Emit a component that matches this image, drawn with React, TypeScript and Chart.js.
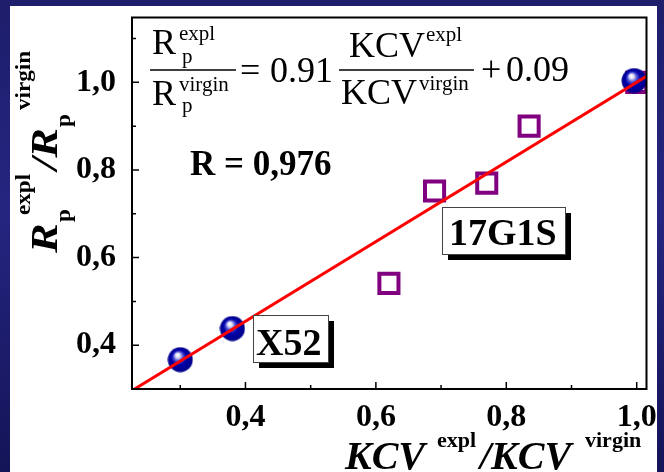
import React, { useEffect, useRef } from "react";
import { Chart, registerables } from "chart.js";

Chart.register(...registerables);

// ---- data ----
const x52X = [0.3, 0.38, 0.996];
const x52Y = [0.367, 0.438, 1.004];
const g17X = [0.62, 0.69, 0.77, 0.835, 1.0];
const g17Y = [0.541, 0.752, 0.77, 0.9, 1.0];
const fitX = [0.23, 1.015];
const fitY = [0.3, 1.014];
const xTicks = [0.4, 0.6, 0.8, 1.0];
const yTicks = [0.4, 0.6, 0.8, 1.0];
const xMinorTicks = [0.3, 0.5, 0.7, 0.9];
const yMinorTicks = [0.5, 0.7, 0.9, 1.1];
const xRange = [0.226, 1.015];
const yRange = [0.3, 1.148];

const SERIF = "'Liberation Serif', 'Times New Roman', serif";

const fmt = (v: number) => v.toFixed(1).replace(".", ",");

function makeSphere() {
  const c = document.createElement("canvas");
  c.width = 26;
  c.height = 26;
  const g = c.getContext("2d")!;
  const grad = g.createRadialGradient(10, 8, 0.5, 13, 13, 13);
  grad.addColorStop(0, "#ffffff");
  grad.addColorStop(0.14, "#e0e0fa");
  grad.addColorStop(0.32, "#5a5ad4");
  grad.addColorStop(0.55, "#0000aa");
  grad.addColorStop(1, "#000086");
  g.fillStyle = grad;
  g.beginPath();
  g.arc(13, 13, 12.5, 0, Math.PI * 2);
  g.fill();
  return c;
}

function txt(ctx: CanvasRenderingContext2D, s: string, x: number, y: number, font: string, sx = 1) {
  ctx.save();
  ctx.font = font;
  ctx.translate(x, y);
  ctx.scale(sx, 1);
  ctx.fillText(s, 0, 0);
  ctx.restore();
}

const bgPlugin = {
  id: "bg",
  beforeDraw(chart: any) {
    const ctx = chart.ctx as CanvasRenderingContext2D;
    const w = chart.width;
    const h = chart.height;
    ctx.save();
    const gr = ctx.createLinearGradient(0, 0, 0, h);
    gr.addColorStop(0, "#1e1e6c");
    gr.addColorStop(0.45, "#252580");
    gr.addColorStop(1, "#141458");
    ctx.fillStyle = gr;
    ctx.fillRect(0, 0, w, h);
    ctx.fillStyle = "#ffffff";
    ctx.fillRect(10, 6, 647, h - 6);
    ctx.restore();
  },
};

const decoPlugin = {
  id: "deco",
  afterDraw(chart: any) {
    const ctx = chart.ctx as CanvasRenderingContext2D;
    const a = chart.chartArea;
    const xs = chart.scales.x;
    const ys = chart.scales.y;
    ctx.save();
    // frame
    ctx.strokeStyle = "#000";
    ctx.lineWidth = 2;
    ctx.strokeRect(a.left, a.top, a.right - a.left, a.bottom - a.top);
    // ticks (inward)
    ctx.lineWidth = 1.5;
    ctx.beginPath();
    xTicks.forEach((v) => {
      const p = xs.getPixelForValue(v);
      ctx.moveTo(p, a.bottom);
      ctx.lineTo(p, a.bottom - 7);
    });
    xMinorTicks.forEach((v) => {
      const p = xs.getPixelForValue(v);
      ctx.moveTo(p, a.bottom);
      ctx.lineTo(p, a.bottom - 4);
    });
    yTicks.forEach((v) => {
      const p = ys.getPixelForValue(v);
      ctx.moveTo(a.left, p);
      ctx.lineTo(a.left + 7, p);
    });
    yMinorTicks.forEach((v) => {
      const p = ys.getPixelForValue(v);
      ctx.moveTo(a.left, p);
      ctx.lineTo(a.left + 4, p);
    });
    ctx.stroke();

    ctx.fillStyle = "#000";
    ctx.textBaseline = "alphabetic";
    ctx.textAlign = "left";

    // x axis title
    const bi39 = `italic bold 40px ${SERIF}`;
    const b22 = `bold 22px ${SERIF}`;
    txt(ctx, "KCV", 345, 469, bi39);
    txt(ctx, "expl", 437, 447, b22);
    txt(ctx, "/KCV", 480, 469, bi39);
    txt(ctx, "virgin", 585, 447, b22);

    // y axis title (rotated)
    ctx.save();
    ctx.translate(57, 253);
    ctx.rotate(-Math.PI / 2);
    const bi36 = `italic bold 37px ${SERIF}`;
    const b21 = `bold 21px ${SERIF}`;
    txt(ctx, "R", 0, 0, bi36, 1.2);
    txt(ctx, "p", 31, 13, b21, 1.1);
    txt(ctx, "expl", 38, -27, b21, 1.1);
    txt(ctx, "/R", 83, 0, bi36, 1.2);
    txt(ctx, "p", 126, 13, b21, 1.1);
    txt(ctx, "virgin", 143, -27, b21, 1.1);
    ctx.restore();

    // equation
    const r36 = `36px ${SERIF}`;
    const r21 = `21px ${SERIF}`;
    txt(ctx, "R", 152, 54, r36);
    txt(ctx, "expl", 179, 40, r21);
    txt(ctx, "p", 182, 63, r21);
    txt(ctx, "R", 152, 105, r36);
    txt(ctx, "virgin", 179, 91, r21);
    txt(ctx, "p", 182, 112, r21);
    ctx.lineWidth = 1.5;
    ctx.beginPath();
    ctx.moveTo(150, 70);
    ctx.lineTo(236, 70);
    ctx.moveTo(339, 70);
    ctx.lineTo(474, 70);
    ctx.stroke();
    txt(ctx, "=", 240, 82, r36);
    txt(ctx, "0.91", 270, 82, r36);
    txt(ctx, "KCV", 349, 57, r36);
    txt(ctx, "expl", 426, 41, r21);
    txt(ctx, "KCV", 341, 104, r36);
    txt(ctx, "virgin", 419, 90, r21);
    txt(ctx, "+", 481, 81, r36);
    txt(ctx, "0.09", 506, 81, r36);

    // R value
    txt(ctx, "R = 0,976", 190, 175, `bold 35px ${SERIF}`);

    // label boxes
    const box = (x: number, y: number, w: number, h: number, s: string, tx: number, ty: number) => {
      ctx.fillStyle = "#000";
      ctx.fillRect(x + 6, y + 6, w, h);
      ctx.fillStyle = "#fff";
      ctx.fillRect(x, y, w, h);
      ctx.strokeStyle = "#444";
      ctx.lineWidth = 1;
      ctx.strokeRect(x + 0.5, y + 0.5, w, h);
      ctx.fillStyle = "#000";
      txt(ctx, s, tx, ty, `bold 38px ${SERIF}`);
    };
    box(442, 207, 123, 47, "17G1S", 449, 245);
    box(253, 315, 75, 47, "X52", 256, 355);
    ctx.restore();
  },
};

const zeroPad = (s: any) => {
  s.paddingTop = 0;
  s.paddingBottom = 0;
  s.paddingLeft = 0;
  s.paddingRight = 0;
};

export default function App() {
  const ref = useRef<HTMLCanvasElement>(null);
  useEffect(() => {
    const sphere = makeSphere();
    const tickFont = { family: SERIF, size: 32, weight: "bold" as const };
    const chart = new Chart(ref.current!, {
      type: "scatter",
      data: {
        datasets: [
          {
            label: "fit",
            data: fitX.map((x, i) => ({ x, y: fitY[i] })),
            showLine: true,
            borderColor: "#ff0000",
            borderWidth: 3,
            pointRadius: 0,
            order: 0,
          },
          {
            label: "X52",
            data: x52X.map((x, i) => ({ x, y: x52Y[i] })),
            pointStyle: sphere as any,
            pointRadius: 12.5,
            order: 1,
          },
          {
            label: "17G1S",
            data: g17X.map((x, i) => ({ x, y: g17Y[i] })),
            pointStyle: "rect",
            pointRadius: 13.5,
            borderColor: "#800080",
            borderWidth: 4,
            backgroundColor: "rgba(0,0,0,0)",
            order: 2,
          },
        ],
      },
      options: {
        animation: false,
        responsive: false,
        layout: { padding: { top: 16, right: 16, left: 0, bottom: 0 } },
        plugins: { legend: { display: false }, tooltip: { enabled: false } },
        scales: {
          x: {
            type: "linear",
            min: xRange[0],
            max: xRange[1],
            grid: { display: false },
            border: { display: false },
            afterBuildTicks: (s: any) => {
              s.ticks = xTicks.map((v) => ({ value: v }));
            },
            afterFit: (s: any) => {
              s.height = 83;
              zeroPad(s);
            },
            ticks: {
              font: tickFont,
              color: "#000",
              padding: 2,
              maxRotation: 0,
              autoSkip: false,
              callback: (v: any) => fmt(Number(v)),
            },
          },
          y: {
            type: "linear",
            min: yRange[0],
            max: yRange[1],
            grid: { display: false },
            border: { display: false },
            afterBuildTicks: (s: any) => {
              s.ticks = yTicks.map((v) => ({ value: v }));
            },
            afterFit: (s: any) => {
              s.width = 132;
              zeroPad(s);
            },
            ticks: {
              font: tickFont,
              color: "#000",
              padding: 8,
              autoSkip: false,
              callback: (v: any) => fmt(Number(v)),
            },
          },
        },
      },
      plugins: [bgPlugin, decoPlugin],
    });
    return () => chart.destroy();
  }, []);
  return (
    <div style={{ position: "fixed", left: 0, top: 0, width: 664, height: 472 }}>
      <canvas ref={ref} width={664} height={472} style={{ display: "block", width: 664, height: 472 }} />
    </div>
  );
}
